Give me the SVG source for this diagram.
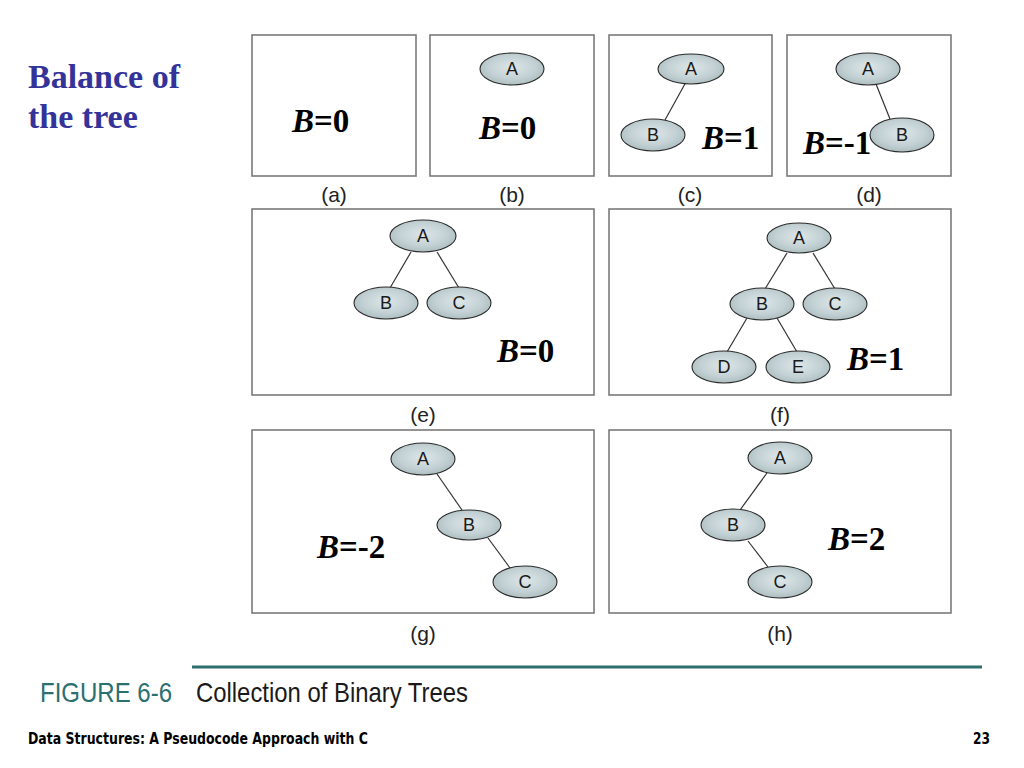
<svg xmlns="http://www.w3.org/2000/svg" width="1024" height="768" viewBox="0 0 1024 768">
<defs>
<radialGradient id="ng" cx="0.5" cy="0.45" r="0.6">
<stop offset="0" stop-color="#dde6e8"/>
<stop offset="0.6" stop-color="#c3d1d4"/>
<stop offset="1" stop-color="#a7b8bb"/>
</radialGradient>
</defs>
<style>
.box{fill:#fff;stroke:#7a7a7a;stroke-width:1.6}
.node ellipse{fill:url(#ng);stroke:#2a2a2a;stroke-width:1.1}
.node text{font-family:"Liberation Sans",Arial,sans-serif;font-size:18px;fill:#1a1a1a;text-anchor:middle}
.edge{stroke:#333;stroke-width:1.2;fill:none}
.bal{font-family:"Liberation Serif","Times New Roman",serif;font-weight:bold;font-size:33px;fill:#000}
.sub{font-family:"Liberation Sans",Arial,sans-serif;font-size:21px;fill:#222;text-anchor:middle}
.title{font-family:"Liberation Serif","Times New Roman",serif;font-weight:bold;font-size:34px;fill:#333399}
</style>
<rect width="1024" height="768" fill="#fff"/>
<g id="title">
<text class="title" x="28" y="88">Balance of</text>
<text class="title" x="28" y="128">the tree</text>
</g>
<g id="panels">
<rect class="box" x="252" y="35" width="164" height="141"/>
<rect class="box" x="430" y="35" width="164" height="141"/>
<rect class="box" x="609" y="35" width="163" height="141"/>
<rect class="box" x="787" y="35" width="164" height="141"/>
<rect class="box" x="252" y="209" width="342" height="186"/>
<rect class="box" x="609" y="209" width="342" height="186"/>
<rect class="box" x="252" y="430" width="342" height="183"/>
<rect class="box" x="609" y="430" width="342" height="183"/>
</g>
<g id="sublabels">
<text class="sub" x="334" y="202">(a)</text>
<text class="sub" x="512" y="202">(b)</text>
<text class="sub" x="690" y="202">(c)</text>
<text class="sub" x="869" y="202">(d)</text>
<text class="sub" x="423" y="422">(e)</text>
<text class="sub" x="780" y="422">(f)</text>
<text class="sub" x="423" y="641">(g)</text>
<text class="sub" x="780" y="641">(h)</text>
</g>
<g id="connectors">
<line class="edge" x1="686" y1="82" x2="665" y2="120"/>
<line class="edge" x1="876" y1="84" x2="890" y2="119"/>
<line class="edge" x1="411" y1="252" x2="390" y2="288"/>
<line class="edge" x1="437" y1="252" x2="459" y2="288"/>
<line class="edge" x1="787" y1="253" x2="765" y2="289"/>
<line class="edge" x1="813" y1="253" x2="835" y2="289"/>
<line class="edge" x1="747" y1="318" x2="727" y2="352"/>
<line class="edge" x1="777" y1="318" x2="797" y2="352"/>
<line class="edge" x1="437" y1="474" x2="462" y2="510"/>
<line class="edge" x1="488" y1="538" x2="510" y2="568"/>
<line class="edge" x1="767" y1="473" x2="740" y2="510"/>
<line class="edge" x1="748" y1="541" x2="768" y2="567"/>
</g>
<g id="b-A" class="node"><ellipse cx="512" cy="69" rx="32" ry="16"/><text x="512" y="75">A</text></g>
<g id="c-A" class="node"><ellipse cx="691" cy="69" rx="33" ry="15"/><text x="691" y="75">A</text></g>
<g id="c-B" class="node"><ellipse cx="653" cy="135" rx="32" ry="16"/><text x="653" y="141">B</text></g>
<g id="d-A" class="node"><ellipse cx="868" cy="69" rx="32" ry="16"/><text x="868" y="75">A</text></g>
<g id="d-B" class="node"><ellipse cx="902" cy="135" rx="32" ry="17"/><text x="902" y="141">B</text></g>
<g id="e-A" class="node"><ellipse cx="423" cy="236" rx="33" ry="16"/><text x="423" y="242">A</text></g>
<g id="e-B" class="node"><ellipse cx="386" cy="303" rx="32" ry="16"/><text x="386" y="309">B</text></g>
<g id="e-C" class="node"><ellipse cx="459" cy="303" rx="32" ry="16"/><text x="459" y="309">C</text></g>
<g id="f-A" class="node"><ellipse cx="799" cy="238" rx="32" ry="15"/><text x="799" y="244">A</text></g>
<g id="f-B" class="node"><ellipse cx="762" cy="304" rx="32" ry="16"/><text x="762" y="310">B</text></g>
<g id="f-C" class="node"><ellipse cx="835" cy="304" rx="32" ry="16"/><text x="835" y="310">C</text></g>
<g id="f-D" class="node"><ellipse cx="724" cy="367" rx="32" ry="16"/><text x="724" y="373">D</text></g>
<g id="f-E" class="node"><ellipse cx="798" cy="367" rx="32" ry="16"/><text x="798" y="373">E</text></g>
<g id="g-A" class="node"><ellipse cx="423" cy="459" rx="32" ry="16"/><text x="423" y="465">A</text></g>
<g id="g-B" class="node"><ellipse cx="469" cy="525" rx="32" ry="15"/><text x="469" y="531">B</text></g>
<g id="g-C" class="node"><ellipse cx="525" cy="582" rx="32" ry="16"/><text x="525" y="588">C</text></g>
<g id="h-A" class="node"><ellipse cx="780" cy="458" rx="32" ry="16"/><text x="780" y="464">A</text></g>
<g id="h-B" class="node"><ellipse cx="733" cy="525" rx="32" ry="16"/><text x="733" y="531">B</text></g>
<g id="h-C" class="node"><ellipse cx="780" cy="582" rx="32" ry="16"/><text x="780" y="588">C</text></g>
<g id="balances">
<text class="bal" x="292" y="132"><tspan font-style="italic">B</tspan>=0</text>
<text class="bal" x="479" y="139"><tspan font-style="italic">B</tspan>=0</text>
<text class="bal" x="702" y="149"><tspan font-style="italic">B</tspan>=1</text>
<text class="bal" x="803" y="154"><tspan font-style="italic">B</tspan>=-1</text>
<text class="bal" x="497" y="362"><tspan font-style="italic">B</tspan>=0</text>
<text class="bal" x="847" y="370"><tspan font-style="italic">B</tspan>=1</text>
<text class="bal" x="317" y="558"><tspan font-style="italic">B</tspan>=-2</text>
<text class="bal" x="828" y="550"><tspan font-style="italic">B</tspan>=2</text>
</g>
<g id="caption">
<line x1="192" y1="667" x2="982" y2="667" stroke="#2e6e6e" stroke-width="3"/>
<text x="40" y="702" font-family="'Liberation Sans Narrow','Liberation Sans',Arial,sans-serif" font-size="28" fill="#2a7070" textLength="132" lengthAdjust="spacingAndGlyphs">FIGURE 6-6</text>
<text x="196" y="702" font-family="'Liberation Sans Narrow','Liberation Sans',Arial,sans-serif" font-size="28" fill="#1a1a1a" textLength="272" lengthAdjust="spacingAndGlyphs">Collection of Binary Trees</text>
</g>
<g id="footer">
<text x="28" y="744" font-family="'DejaVu Sans',Verdana,sans-serif" font-weight="bold" font-size="15" fill="#000" textLength="340" lengthAdjust="spacingAndGlyphs">Data Structures: A Pseudocode Approach with C</text>
<text x="990" y="744" font-family="'DejaVu Sans',Verdana,sans-serif" font-weight="bold" font-size="15" fill="#000" text-anchor="end" textLength="17" lengthAdjust="spacingAndGlyphs">23</text>
</g>
</svg>
